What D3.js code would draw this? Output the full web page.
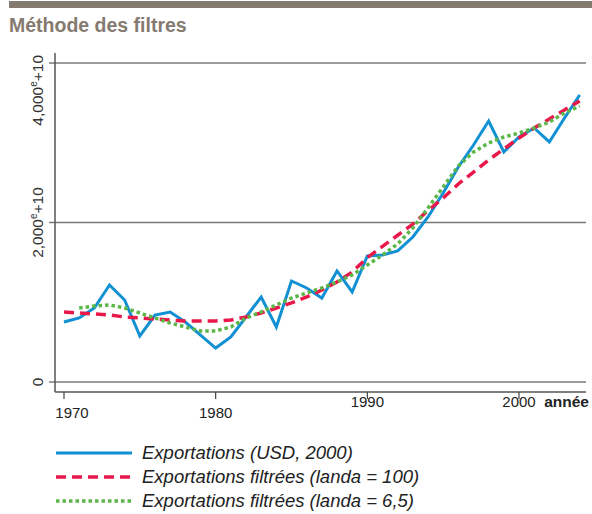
<!DOCTYPE html>
<html>
<head>
<meta charset="utf-8">
<script src="https://cdn.jsdelivr.net/npm/d3@7"></script>
<style>
  body { margin: 0; background: #fff; }
  svg { display: block; font-family: "Liberation Sans", Arial, sans-serif; }
</style>
</head>
<body>
<script>
// annees et series (valeurs en e+10 USD)
var years = d3.range(1970, 2005);
var exportations = [752, 803, 928, 1216, 1028, 577, 840, 878, 752, 589,
  426, 564, 815, 1066, 690, 1267, 1179, 1053, 1392, 1129,
  1580, 1593, 1643, 1818, 2069, 2370, 2696, 2972, 3273, 2884,
  3072, 3185, 3010, 3311, 3599];
var filtre100 = [878, 865, 853, 840, 815, 803, 790, 777, 765, 765,
  765, 777, 815, 865, 928, 991, 1066, 1154, 1254, 1379,
  1560, 1700, 1840, 1980, 2150, 2307, 2483, 2633, 2784, 2922,
  3060, 3185, 3298, 3411, 3524];
var filtre65 = [null, 928, 953, 966, 928, 865, 803, 740, 690, 640,
  640, 690, 803, 878, 966, 1053, 1116, 1179, 1254, 1342,
  1467, 1593, 1731, 1931, 2182, 2445, 2709, 2884, 2997, 3072,
  3122, 3185, 3260, 3373, 3461];

var yTicks = [0, 2000, 4000];
var xTicks = [1970, 1980, 1990, 2000];
var legendLabels = ["Exportations (USD, 2000)", "Exportations filtrées (landa = 100)", "Exportations filtrées (landa = 6,5)"];

var W = 592, H = 514;
var svg = d3.select("body").append("svg").attr("width", W).attr("height", H);

// bandeau + titre
svg.append("rect").attr("x", 9).attr("y", 1).attr("width", W - 9).attr("height", 7).attr("fill", "#857a70");
svg.append("text").attr("x", 9).attr("y", 32)
  .attr("font-size", 19.5).attr("font-weight", "bold").attr("fill", "#857a70")
  .text("Méthode des filtres");

var x = d3.scaleLinear().domain([1970, 2000]).range([64, 519]);
var y = d3.scaleLinear().domain([0, 4000]).range([382, 63]);
var axisLeft = 55, axisBottom = 392, right = 586;

// grille horizontale
svg.selectAll(".grid").data(yTicks).enter().append("line")
  .attr("x1", axisLeft - 6).attr("x2", right)
  .attr("y1", function (d) { return y(d); }).attr("y2", function (d) { return y(d); })
  .attr("stroke", "#7a7a7a").attr("stroke-width", 1.5);

// axes
svg.append("line").attr("x1", axisLeft).attr("x2", axisLeft).attr("y1", 53).attr("y2", axisBottom)
  .attr("stroke", "#555").attr("stroke-width", 1.5);
svg.append("line").attr("x1", axisLeft).attr("x2", right).attr("y1", axisBottom).attr("y2", axisBottom)
  .attr("stroke", "#555").attr("stroke-width", 1.5);

// etiquettes y (tournees)
var fmt = d3.format(",");
yTicks.forEach(function (v) {
  var cy = y(v);
  var t = svg.append("text")
    .attr("font-size", 15.5).attr("fill", "#333").attr("text-anchor", "middle");
  if (v === 0) {
    t.text("0");
  } else {
    t.append("tspan").text(fmt(v));
    t.append("tspan").attr("font-size", 10).attr("dy", -6).text("e");
    t.append("tspan").attr("dy", 6).text("+10");
  }
  var half = t.node().getComputedTextLength() / 2;
  cy = Math.max(cy, 55 + half); // ne pas depasser le haut du graphique
  t.attr("transform", "translate(43," + cy + ") rotate(-90)");
});

// graduations x
svg.selectAll(".xt").data(xTicks).enter().append("line")
  .attr("x1", function (d) { return x(d); }).attr("x2", function (d) { return x(d); })
  .attr("y1", axisBottom).attr("y2", axisBottom + 7)
  .attr("stroke", "#444").attr("stroke-width", 1.2);
svg.selectAll(".xl").data(xTicks).enter().append("text")
  .attr("x", function (d) { return Math.max(x(d), 72); })
  .attr("y", function (d) { return d < 1990 ? 418 : 407; })
  .attr("text-anchor", "middle").attr("font-size", 15).attr("fill", "#222")
  .text(function (d) { return d; });
svg.append("text").attr("x", 589).attr("y", 407).attr("text-anchor", "end")
  .attr("font-size", 15.5).attr("font-weight", "bold").attr("fill", "#222").text("année");

// courbes
var series = [
  { vals: exportations, color: "#1190d4", width: 3, dash: null },
  { vals: filtre100, color: "#e8194a", width: 3.5, dash: "10,6" },
  { vals: filtre65, color: "#5cb648", width: 3.5, dash: "3.5,3" }
];
var line = d3.line()
  .defined(function (d) { return d.v !== null; })
  .x(function (d) { return x(d.yr); })
  .y(function (d) { return y(d.v); });

series.forEach(function (s) {
  var pts = years.map(function (yr, i) { return { yr: yr, v: s.vals[i] }; });
  svg.append("path").datum(pts).attr("d", line)
    .attr("fill", "none").attr("stroke", s.color).attr("stroke-width", s.width)
    .attr("stroke-dasharray", s.dash).attr("stroke-linejoin", "miter");
});

// legende
var ly = [453, 477, 501];
series.forEach(function (s, i) {
  svg.append("line").attr("x1", 56).attr("x2", 132).attr("y1", ly[i]).attr("y2", ly[i])
    .attr("stroke", s.color).attr("stroke-width", s.width).attr("stroke-dasharray", s.dash);
  svg.append("text").attr("x", 142).attr("y", ly[i] + 6)
    .attr("font-size", 18.5).attr("font-style", "italic").attr("fill", "#222")
    .text(legendLabels[i]);
});
</script>
</body>
</html>
